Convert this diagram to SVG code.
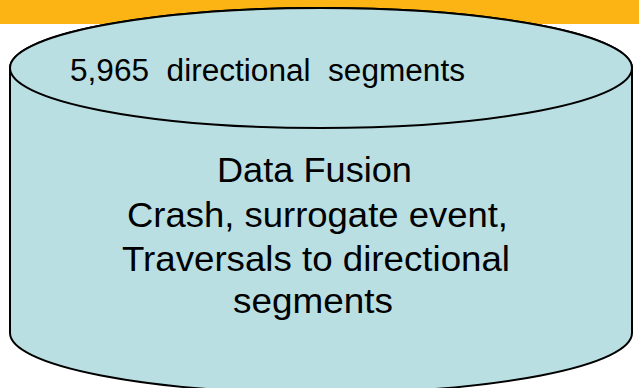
<svg xmlns="http://www.w3.org/2000/svg" width="639" height="388" viewBox="0 0 639 388">
<style>
.cyl{fill:#b9dfe3;stroke:#000;stroke-width:2}
.t{font-family:"Liberation Sans",Arial,sans-serif;fill:#000}
</style>
<rect x="0" y="0" width="639" height="388" fill="#fff"/>
<rect x="0" y="0" width="639" height="24" fill="#fcb314"/>
<g id="cylinder">
<path class="cyl" d="M10,68 L10,333 A311,60 0 0 0 632,333 L632,68 A311,60 0 0 0 10,68 Z"/>
<ellipse class="cyl" cx="321" cy="68" rx="311" ry="60"/>
<text class="t" x="70" y="81" font-size="31" textLength="395" lengthAdjust="spacingAndGlyphs" xml:space="preserve">5,965  directional  segments</text>
<g font-size="35" lengthAdjust="spacingAndGlyphs">
<text class="t" x="217" y="182" textLength="195" lengthAdjust="spacingAndGlyphs">Data Fusion</text>
<text class="t" x="127" y="227" textLength="381" lengthAdjust="spacingAndGlyphs">Crash, surrogate event,</text>
<text class="t" x="122" y="271" textLength="388" lengthAdjust="spacingAndGlyphs">Traversals to directional</text>
<text class="t" x="233" y="313" textLength="160" lengthAdjust="spacingAndGlyphs">segments</text>
</g>
</g>
</svg>
